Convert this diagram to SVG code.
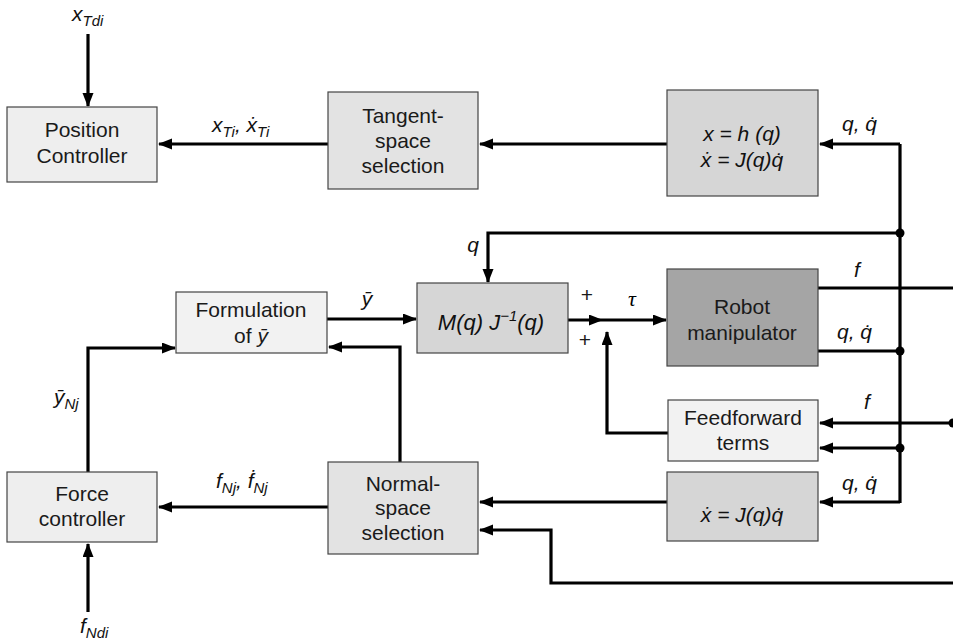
<svg xmlns="http://www.w3.org/2000/svg" width="953" height="643" viewBox="0 0 953 643">
<style>
.bx{stroke:#444;stroke-width:1.2}
.c1{fill:#eeeeee}.c2{fill:#e3e3e3}.c3{fill:#d6d6d6}.c4{fill:#a5a5a5}.c5{fill:#f2f2f2}
.t{font-family:"Liberation Sans",Arial,sans-serif;font-size:21px;fill:#1a1a1a;text-anchor:middle}
.m{font-family:"Liberation Sans",Arial,sans-serif;font-size:21px;font-style:italic;fill:#111}
.s{font-size:15px}
.ln{fill:none;stroke:#000;stroke-width:3.2}
.ar{marker-end:url(#ah)}
</style>
<defs>
<marker id="ah" markerUnits="userSpaceOnUse" markerWidth="15" markerHeight="12" refX="13" refY="5.5" orient="auto">
<path d="M0,0 L14,5.5 L0,11 Z" fill="#000"/>
</marker>
</defs>
<g id="connectors">
<path class="ln ar" d="M88,34 V106"/>
<path class="ln ar" d="M328,144 H159"/>
<path class="ln ar" d="M667,144 H480"/>
<path class="ln ar" d="M900,144 H820"/>
<path class="ln" d="M900,144 V503"/>
<path class="ln ar" d="M900,502 H820"/>
<path class="ln ar" d="M900,233 H488 V282"/>
<path class="ln ar" d="M327,319 H416"/>
<path class="ln ar" d="M568,320 H602"/>
<path class="ln ar" d="M602,320 H666"/>
<path class="ln ar" d="M668,433 H607 V332"/>
<path class="ln" d="M818,288 H953"/>
<path class="ln" d="M818,351 H900"/>
<path class="ln ar" d="M953,423 H820"/>
<path class="ln ar" d="M900,448 H820"/>
<path class="ln ar" d="M667,502 H480"/>
<path class="ln ar" d="M953,583 H551 V530 H480"/>
<path class="ln ar" d="M328,507 H159"/>
<path class="ln ar" d="M400,462 V347 H329"/>
<path class="ln ar" d="M88,472 V348 H175"/>
<path class="ln ar" d="M88,612 V544"/>
<circle cx="900" cy="233" r="4.5"/>
<circle cx="900" cy="351" r="4.5"/>
<circle cx="900" cy="448" r="4.5"/>
<circle cx="953" cy="423" r="4.5"/>
</g>
<g id="labels">
<text class="m" x="72" y="21">x<tspan class="s" dy="5">Tdi</tspan></text>
<text class="m" x="212" y="132">x<tspan class="s" dy="5">Ti</tspan><tspan dy="-5">, ẋ</tspan><tspan class="s" dy="5">Ti</tspan></text>
<text class="m" x="842" y="131">q, q̇</text>
<text class="m" x="473" y="252" text-anchor="middle">q</text>
<text class="m" x="367" y="306" text-anchor="middle">ȳ</text>
<text x="632" y="306" style="font-family:'Liberation Serif',serif;font-size:22px;font-style:italic" text-anchor="middle">τ</text>
<text class="t" x="587" y="302">+</text>
<text class="t" x="585" y="347">+</text>
<text class="m" x="857" y="277" text-anchor="middle">f</text>
<text class="m" x="837" y="339">q, q̇</text>
<text class="m" x="867" y="409" text-anchor="middle">f</text>
<text class="m" x="842" y="490">q, q̇</text>
<text class="m" x="216" y="488">f<tspan class="s" dy="5">Nj</tspan><tspan dy="-5">, ḟ</tspan><tspan class="s" dy="5">Nj</tspan></text>
<text class="m" x="54" y="404">ȳ<tspan class="s" dy="5">Nj</tspan></text>
<text class="m" x="80" y="633">f<tspan class="s" dy="5">Ndi</tspan></text>
</g>
<g id="position-controller">
<rect class="bx c1" x="7" y="107" width="150" height="75"/>
<text class="t" x="82" y="137">Position</text>
<text class="t" x="82" y="163">Controller</text>
</g>
<g id="tangent-space">
<rect class="bx c2" x="328" y="92" width="150" height="97"/>
<text class="t" x="403" y="123">Tangent-</text>
<text class="t" x="403" y="148">space</text>
<text class="t" x="403" y="173">selection</text>
</g>
<g id="kinematics">
<rect class="bx c3" x="667" y="90" width="151" height="106"/>
<text class="m" x="742" y="141" text-anchor="middle">x = h (q)</text>
<text class="m" x="742" y="167" text-anchor="middle">ẋ = J(q)q̇</text>
</g>
<g id="formulation">
<rect class="bx c5" x="176" y="292" width="151" height="61"/>
<text class="t" x="251" y="317">Formulation</text>
<text class="t" x="251" y="343">of  <tspan font-style="italic">ȳ</tspan></text>
</g>
<g id="mass-jacobian">
<rect class="bx c3" x="417" y="283" width="151" height="70"/>
<text class="m" x="491" y="330" text-anchor="middle" style="font-size:22px">M(q) J<tspan class="s" dy="-9">−1</tspan><tspan dy="9">(q)</tspan></text>
</g>
<g id="robot">
<rect class="bx c4" x="667" y="269" width="151" height="97"/>
<text class="t" x="742" y="314">Robot</text>
<text class="t" x="742" y="340">manipulator</text>
</g>
<g id="feedforward">
<rect class="bx c5" x="668" y="400" width="150" height="61"/>
<text class="t" x="743" y="425">Feedforward</text>
<text class="t" x="743" y="450">terms</text>
</g>
<g id="velocity">
<rect class="bx c3" x="667" y="472" width="151" height="69"/>
<text class="m" x="742" y="522" text-anchor="middle">ẋ = J(q)q̇</text>
</g>
<g id="normal-space">
<rect class="bx c2" x="328" y="462" width="150" height="92"/>
<text class="t" x="403" y="491">Normal-</text>
<text class="t" x="403" y="515">space</text>
<text class="t" x="403" y="540">selection</text>
</g>
<g id="force-controller">
<rect class="bx c1" x="7" y="472" width="150" height="70"/>
<text class="t" x="82" y="501">Force</text>
<text class="t" x="82" y="526">controller</text>
</g>
</svg>
